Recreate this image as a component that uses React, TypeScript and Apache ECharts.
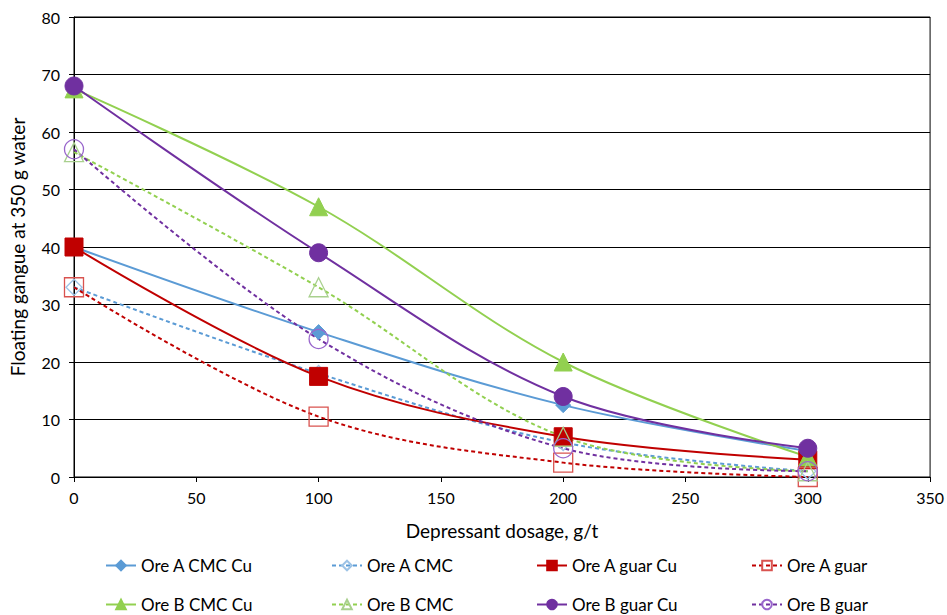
import React, { useEffect, useRef } from "react";
import * as echarts from "echarts";

const dosages = [0, 100, 200, 300];
const oreACmcCu = [40, 25.2, 12.5, 4.5];
const oreACmc = [33, 18, 6, 1];
const oreAGuarCu = [40, 17.5, 7, 3];
const oreAGuar = [33, 10.5, 2.5, 0];
const oreBCmcCu = [67.5, 47, 20, 3.5];
const oreBCmc = [56.5, 33, 7, 1];
const oreBGuarCu = [68, 39, 14, 5];
const oreBGuar = [57, 24, 5, 1];

const seriesNames = [
  "Ore A CMC Cu",
  "Ore A CMC",
  "Ore A guar Cu",
  "Ore A guar",
  "Ore B CMC Cu",
  "Ore B CMC",
  "Ore B guar Cu",
  "Ore B guar",
];

const FONT = "Lato, 'Open Sans', sans-serif";

export default function App() {
  const ref = useRef<HTMLDivElement>(null);
  useEffect(() => {
    if (!ref.current) return;
    const chart = echarts.init(ref.current, null, { renderer: "svg" });
    const values = [oreACmcCu, oreACmc, oreAGuarCu, oreAGuar, oreBCmcCu, oreBCmc, oreBGuarCu, oreBGuar];
    const colors = ["#5B9BD5", "#5B9BD5", "#C00000", "#C00000", "#92D050", "#92D050", "#7030A0", "#7030A0"];
    const markerBorders = ["#5B9BD5", "#9DC3E6", "#C00000", "#D9534F", "#92D050", "#A9D08E", "#7030A0", "#9966CC"];
    const symbols = ["diamond", "diamond", "rect", "rect", "triangle", "triangle", "circle", "circle"];
    const sizes = [15, 16, 18, 19, 18, 19, 18, 19];
    const series = seriesNames.map((name, i) => {
      const hollow = i % 2 === 1;
      return {
        name,
        type: "line",
        smooth: 0.35,
        data: dosages.map((d, j) => [d, values[i][j]]),
        symbol: symbols[i],
        symbolSize: sizes[i],
        showSymbol: true,
        lineStyle: { color: colors[i], width: 2, type: hollow ? [4, 3] : "solid" },
        itemStyle: hollow
          ? { color: "rgba(255,255,255,0)", borderColor: markerBorders[i], borderWidth: 1.3 }
          : { color: colors[i], borderColor: colors[i], borderWidth: 1 },
      };
    });
    const colLeft = [100, 326, 531, 746];
    const rowTop = [552, 591];
    const legends = seriesNames.map((name, i) => ({
      data: [name],
      left: colLeft[i % 4],
      top: rowTop[Math.floor(i / 4)],
      itemWidth: 30,
      itemHeight: 12,
      itemGap: 2,
      textStyle: { fontFamily: FONT, fontSize: 17, color: "#000" },
      selectedMode: false,
    }));
    chart.setOption({
      animation: false,
      backgroundColor: "#ffffff",
      grid: {
        left: 73,
        top: 17,
        right: 16,
        bottom: 138,
        show: true,
        borderColor: "#000",
        borderWidth: 1,
      },
      legend: legends,
      xAxis: {
        type: "value",
        min: 0,
        max: 350,
        interval: 50,
        name: "Depressant dosage, g/t",
        nameLocation: "middle",
        nameGap: 44,
        nameTextStyle: { fontFamily: FONT, fontSize: 19, color: "#000" },
        axisLine: { show: true, lineStyle: { color: "#000", width: 1 } },
        axisTick: { show: true, length: 5, lineStyle: { color: "#000" } },
        axisLabel: { fontFamily: FONT, fontSize: 16, color: "#000", margin: 12 },
        splitLine: { show: false },
      },
      yAxis: {
        type: "value",
        min: 0,
        max: 80,
        interval: 10,
        name: "Floating gangue at 350 g water",
        nameLocation: "middle",
        nameGap: 47,
        nameTextStyle: { fontFamily: FONT, fontSize: 19, color: "#000" },
        axisLine: { show: true, lineStyle: { color: "#000", width: 1 } },
        axisTick: { show: true, length: 5, lineStyle: { color: "#000" } },
        axisLabel: { fontFamily: FONT, fontSize: 16, color: "#000", margin: 14 },
        splitLine: { show: true, lineStyle: { color: "#000", width: 1 } },
      },
      series,
    });
    return () => chart.dispose();
  }, []);
  return <div ref={ref} style={{ width: 947, height: 615, position: "absolute", left: 0, top: 0 }} />;
}
